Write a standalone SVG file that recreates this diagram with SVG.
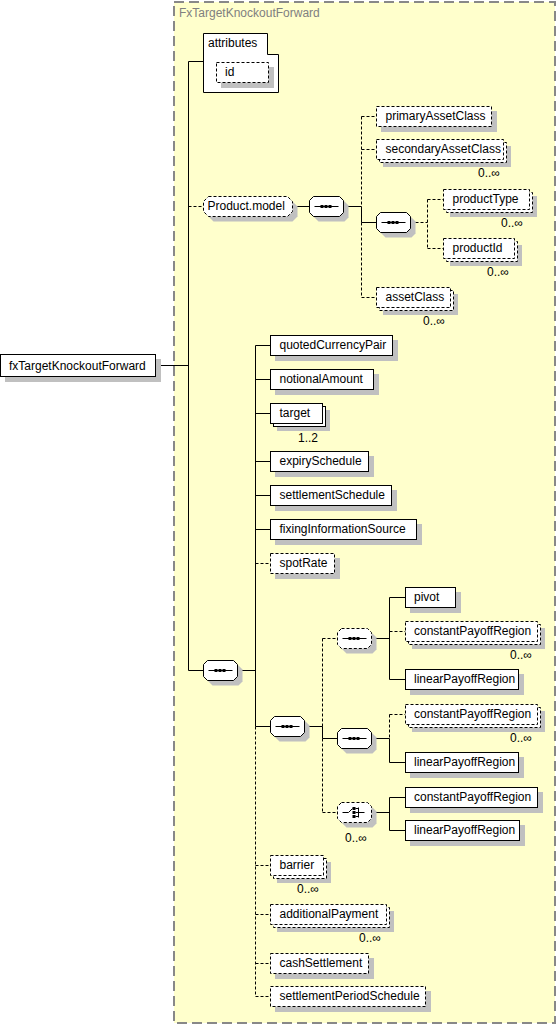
<svg xmlns="http://www.w3.org/2000/svg" xmlns:xlink="http://www.w3.org/1999/xlink" width="557" height="1026" viewBox="0 0 557 1026">
<style>
text{font-family:"Liberation Sans",Arial,sans-serif;font-size:12px;fill:#000}
.title{fill:#808080}
.bx{fill:#fff;stroke:#000;stroke-width:1}
.d{stroke-dasharray:3,2}
.sh{fill:#c0c0c0;stroke:none}
.ln{fill:none;stroke:#000;stroke-width:1}
.glyph{fill:none;stroke:#000;stroke-width:1}
.dot{fill:#000;stroke:none}
</style>
<defs>
<path id="oct" d="M4,0 H30 L34,4 V16 L30,20 H4 L0,16 V4 Z"/>
<path id="oct89" d="M5,0 H84 L89,5 V15 L84,20 H5 L0,15 V5 Z"/>
<g id="seqg"><path class="glyph" d="M-12,0 H12"/><rect class="dot" x="-6" y="-1.5" width="3" height="3"/><rect class="dot" x="-2" y="-1.5" width="3" height="3"/><rect class="dot" x="2" y="-1.5" width="3" height="3"/></g>
<g id="choiceg"><path class="glyph" d="M-12,0 H-6 L-2,-4 M4,-5 V5 M1,-4 H4 M1,0 H10 M1,4 H4"/><rect class="dot" x="-2" y="-5.5" width="3" height="3"/><rect class="dot" x="-2" y="-1.5" width="3" height="3"/><rect class="dot" x="-2" y="2.5" width="3" height="3"/></g>
</defs>
<rect x="174" y="2" width="381" height="1021" fill="#ffffcc" stroke="#888" stroke-width="2" stroke-dasharray="10,5"/>
<text class="title" x="179" y="17">FxTargetKnockoutForward</text>

<g id="connectors">
<path class="ln" d="M155.5,365.5 H188.5 M188.5,61.5 V670.5 M188.5,61.5 H203.5 M188.5,670.5 H203.5 M292.5,206.5 H309.5 M343.5,206.5 H361.5 M361.5,206.5 V222.5 H376.5"/>
<path class="ln d" d="M188.5,206.5 H203.5 M361.5,116.5 V206.5 M361.5,222.5 V297.5 M361.5,116.5 H376.5 M361.5,149.5 H376.5 M361.5,297.5 H376.5 M410.5,222.5 H427.5 M427.5,199.5 V248.5 M427.5,199.5 H443.5 M427.5,248.5 H443.5"/>
<path class="ln" d="M237.5,670.5 H255.5 M255.5,345.5 V726.5 M255.5,345.5 H270.5 M255.5,379.5 H270.5 M255.5,413.5 H270.5 M255.5,461.5 H270.5 M255.5,495.5 H270.5 M255.5,529.5 H270.5 M255.5,726.5 H270.5"/>
<path class="ln d" d="M255.5,726.5 V996.5 M255.5,563.5 H270.5 M255.5,865.5 H270.5 M255.5,914.5 H270.5 M255.5,963.5 H270.5 M255.5,996.5 H270.5"/>
<path class="ln" d="M304.5,726.5 H322.5 M322.5,726.5 V738.5 H337.5 M371.5,638.5 H389.5 M389.5,597.5 V679.5 M389.5,597.5 H405.5 M389.5,679.5 H405.5 M371.5,738.5 H389.5 V762.5 H405.5 M371.5,812.5 H389.5 M389.5,797.5 V830.5 M389.5,797.5 H405.5 M389.5,830.5 H405.5"/>
<path class="ln d" d="M322.5,638.5 V726.5 M322.5,738.5 V812.5 M322.5,638.5 H337.5 M322.5,812.5 H337.5 M389.5,631.5 H405.5 M389.5,714.5 V738.5 M389.5,714.5 H405.5"/>
</g>

<g id="n-root"><rect class="sh" x="5" y="359" width="156" height="23"/><rect class="bx" x="0.5" y="354.5" width="155" height="22"/><text x="9" y="370">fxTargetKnockoutForward</text></g>

<g id="n-attributes"><path class="bx" d="M203.5,33.5 H267.5 V54.5 H278.5 V92.5 H203.5 Z"/><text x="208" y="47">attributes</text>
<g id="n-id"><rect class="sh" x="221" y="67" width="53" height="21"/><rect class="bx d" x="216.5" y="62.5" width="52" height="20"/><text x="225" y="76">id</text></g></g>

<g id="n-productmodel"><use xlink:href="#oct89" class="sh" x="208.5" y="201.5"/><use xlink:href="#oct89" class="bx d" x="203.5" y="196.5"/><text x="207.5" y="210">Product.model</text></g>
<g id="n-seq1"><use xlink:href="#oct" class="sh" x="314.5" y="201.5"/><use xlink:href="#oct" class="bx" x="309.5" y="196.5"/><use xlink:href="#seqg" x="326.5" y="206.5"/></g>
<g id="n-seq2"><use xlink:href="#oct" class="sh" x="381.5" y="217.5"/><use xlink:href="#oct" class="bx" x="376.5" y="212.5"/><use xlink:href="#seqg" x="393.5" y="222.5"/></g>

<g id="n-primaryAssetClass"><rect class="sh" x="381" y="111" width="116" height="21"/><rect class="bx d" x="376.5" y="106.5" width="115" height="20"/><text x="385.5" y="120">primaryAssetClass</text></g>
<g id="n-secondaryAssetClass"><rect class="sh" x="383" y="146" width="128" height="21"/><rect class="bx d" x="379.5" y="142.5" width="127" height="20"/><rect class="bx d" x="376.5" y="139.5" width="127" height="20"/><text x="385.5" y="153">secondaryAssetClass</text><text x="478" y="177">0..∞</text></g>
<g id="n-productType"><rect class="sh" x="450" y="196" width="87" height="21"/><rect class="bx d" x="446.5" y="192.5" width="86" height="20"/><rect class="bx d" x="443.5" y="189.5" width="86" height="20"/><text x="452.5" y="203">productType</text><text x="501" y="227">0..∞</text></g>
<g id="n-productId"><rect class="sh" x="450" y="245" width="72" height="21"/><rect class="bx d" x="446.5" y="241.5" width="71" height="20"/><rect class="bx d" x="443.5" y="238.5" width="71" height="20"/><text x="452.5" y="252">productId</text><text x="487" y="276">0..∞</text></g>
<g id="n-assetClass"><rect class="sh" x="383" y="294" width="75" height="21"/><rect class="bx d" x="379.5" y="290.5" width="74" height="20"/><rect class="bx d" x="376.5" y="287.5" width="74" height="20"/><text x="385.5" y="301">assetClass</text><text x="423" y="325">0..∞</text></g>

<g id="n-seqMain"><use xlink:href="#oct" class="sh" x="208.5" y="665.5"/><use xlink:href="#oct" class="bx" x="203.5" y="660.5"/><use xlink:href="#seqg" x="220.5" y="670.5"/></g>

<g id="n-quotedCurrencyPair"><rect class="sh" x="275" y="340" width="123" height="21"/><rect class="bx" x="270.5" y="335.5" width="122" height="20"/><text x="279.5" y="349">quotedCurrencyPair</text></g>
<g id="n-notionalAmount"><rect class="sh" x="275" y="374" width="104" height="21"/><rect class="bx" x="270.5" y="369.5" width="103" height="20"/><text x="279.5" y="383">notionalAmount</text></g>
<g id="n-target"><rect class="sh" x="277" y="410" width="53" height="21"/><rect class="bx" x="273.5" y="406.5" width="52" height="20"/><rect class="bx" x="270.5" y="403.5" width="52" height="20"/><text x="279.5" y="417">target</text><text x="298" y="442">1..2</text></g>
<g id="n-expirySchedule"><rect class="sh" x="275" y="456" width="99" height="21"/><rect class="bx" x="270.5" y="451.5" width="98" height="20"/><text x="279.5" y="465">expirySchedule</text></g>
<g id="n-settlementSchedule"><rect class="sh" x="275" y="490" width="122" height="21"/><rect class="bx" x="270.5" y="485.5" width="121" height="20"/><text x="279.5" y="499">settlementSchedule</text></g>
<g id="n-fixingInformationSource"><rect class="sh" x="275" y="524" width="147" height="21"/><rect class="bx" x="270.5" y="519.5" width="146" height="20"/><text x="279.5" y="533">fixingInformationSource</text></g>
<g id="n-spotRate"><rect class="sh" x="275" y="558" width="65" height="21"/><rect class="bx d" x="270.5" y="553.5" width="64" height="20"/><text x="279.5" y="567">spotRate</text></g>

<g id="n-seqMid"><use xlink:href="#oct" class="sh" x="275.5" y="721.5"/><use xlink:href="#oct" class="bx" x="270.5" y="716.5"/><use xlink:href="#seqg" x="287.5" y="726.5"/></g>
<g id="n-seqUp"><use xlink:href="#oct" class="sh" x="342.5" y="633.5"/><use xlink:href="#oct" class="bx d" x="337.5" y="628.5"/><use xlink:href="#seqg" x="354.5" y="638.5"/></g>
<g id="n-seqMid2"><use xlink:href="#oct" class="sh" x="342.5" y="733.5"/><use xlink:href="#oct" class="bx" x="337.5" y="728.5"/><use xlink:href="#seqg" x="354.5" y="738.5"/></g>
<g id="n-choice"><use xlink:href="#oct" class="sh" x="342.5" y="807.5"/><use xlink:href="#oct" class="bx d" x="337.5" y="802.5"/><use xlink:href="#choiceg" x="354.5" y="812.5"/><text x="345" y="842">0..∞</text></g>

<g id="n-pivot"><rect class="sh" x="410" y="592" width="51" height="21"/><rect class="bx" x="405.5" y="587.5" width="50" height="20"/><text x="414" y="601">pivot</text></g>
<g id="n-constantPayoffRegion1"><rect class="sh" x="412" y="628" width="133" height="21"/><rect class="bx d" x="408.5" y="624.5" width="132" height="20"/><rect class="bx d" x="405.5" y="621.5" width="132" height="20"/><text x="414" y="635">constantPayoffRegion</text><text x="510" y="659">0..∞</text></g>
<g id="n-linearPayoffRegion1"><rect class="sh" x="410" y="674" width="114" height="21"/><rect class="bx" x="405.5" y="669.5" width="113" height="20"/><text x="414" y="683">linearPayoffRegion</text></g>
<g id="n-constantPayoffRegion2"><rect class="sh" x="412" y="711" width="133" height="21"/><rect class="bx d" x="408.5" y="707.5" width="132" height="20"/><rect class="bx d" x="405.5" y="704.5" width="132" height="20"/><text x="414" y="718">constantPayoffRegion</text><text x="510" y="742">0..∞</text></g>
<g id="n-linearPayoffRegion2"><rect class="sh" x="410" y="757" width="114" height="21"/><rect class="bx" x="405.5" y="752.5" width="113" height="20"/><text x="414" y="766">linearPayoffRegion</text></g>
<g id="n-constantPayoffRegion3"><rect class="sh" x="410" y="792" width="133" height="21"/><rect class="bx" x="405.5" y="787.5" width="132" height="20"/><text x="414" y="801">constantPayoffRegion</text></g>
<g id="n-linearPayoffRegion3"><rect class="sh" x="410" y="825" width="115" height="21"/><rect class="bx" x="405.5" y="820.5" width="114" height="20"/><text x="414" y="834">linearPayoffRegion</text></g>

<g id="n-barrier"><rect class="sh" x="277" y="862" width="54" height="21"/><rect class="bx d" x="273.5" y="858.5" width="53" height="20"/><rect class="bx d" x="270.5" y="855.5" width="53" height="20"/><text x="279.5" y="869">barrier</text><text x="297" y="893">0..∞</text></g>
<g id="n-additionalPayment"><rect class="sh" x="277" y="911" width="117" height="21"/><rect class="bx d" x="273.5" y="907.5" width="116" height="20"/><rect class="bx d" x="270.5" y="904.5" width="116" height="20"/><text x="279.5" y="918">additionalPayment</text><text x="359" y="942">0..∞</text></g>
<g id="n-cashSettlement"><rect class="sh" x="275" y="958" width="99" height="21"/><rect class="bx d" x="270.5" y="953.5" width="98" height="20"/><text x="279.5" y="967">cashSettlement</text></g>
<g id="n-settlementPeriodSchedule"><rect class="sh" x="275" y="991" width="156" height="21"/><rect class="bx d" x="270.5" y="986.5" width="155" height="20"/><text x="279.5" y="1000">settlementPeriodSchedule</text></g>
</svg>
